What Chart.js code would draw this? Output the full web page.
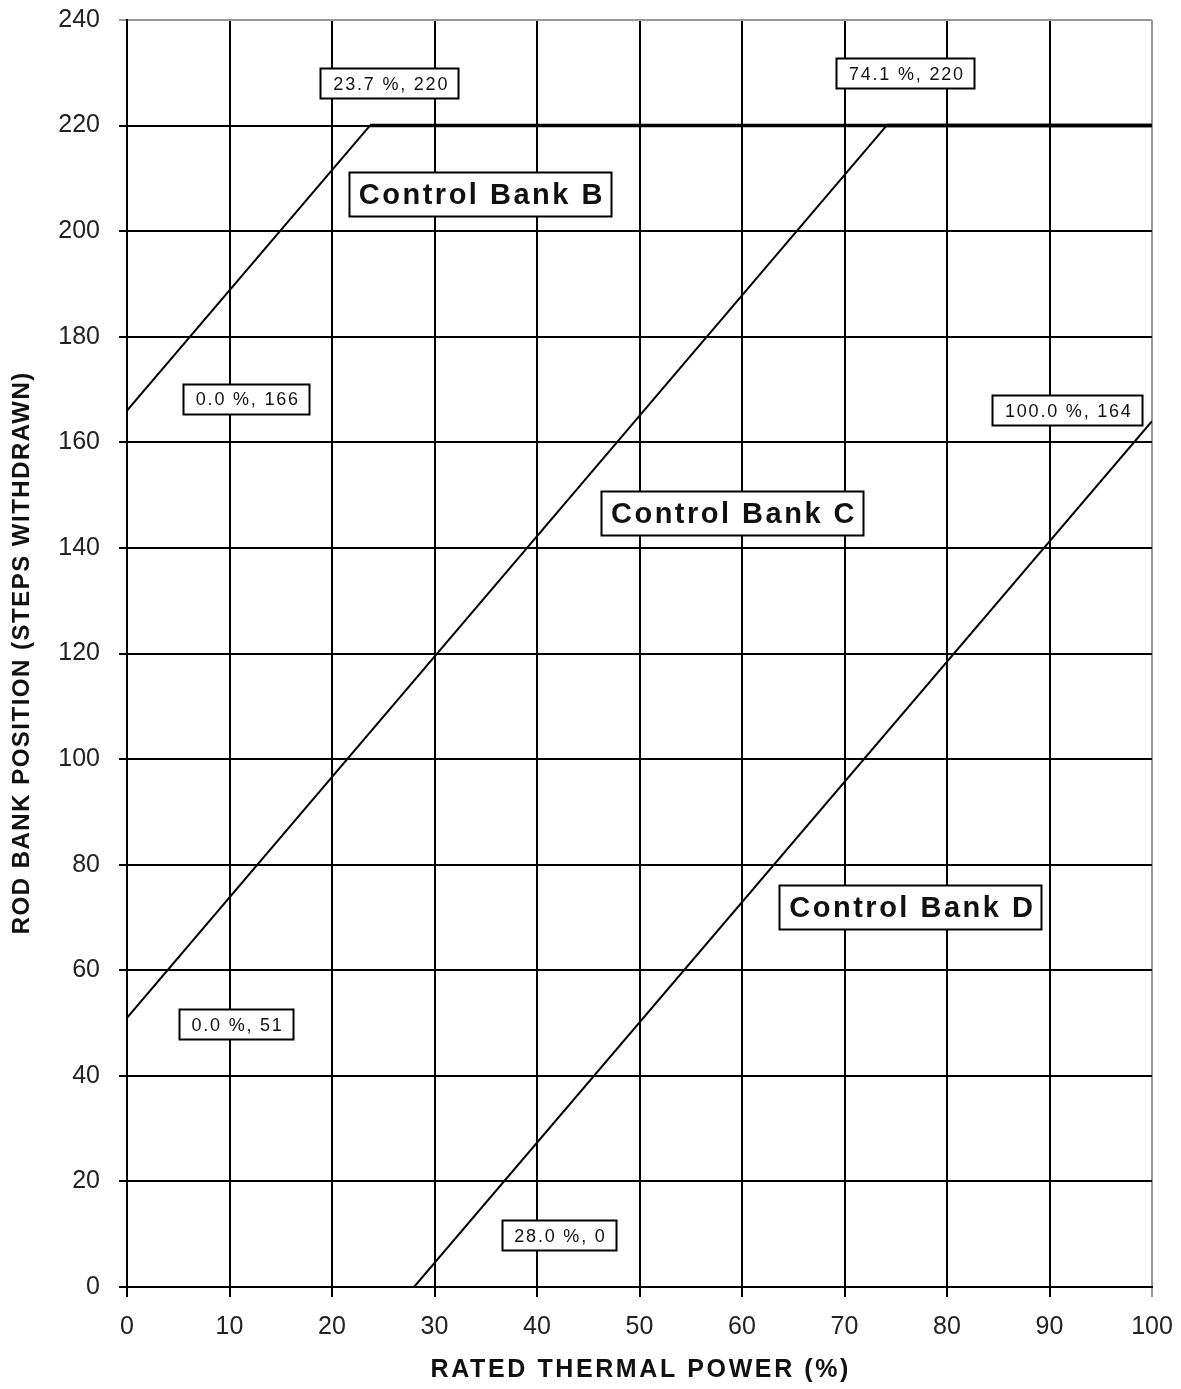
<!DOCTYPE html>
<html>
<head>
<meta charset="utf-8">
<script src="https://cdn.jsdelivr.net/npm/chart.js@4/dist/chart.umd.min.js"></script>
<style>
  html, body { margin: 0; padding: 0; background: #fff; }
  #wrap { width: 1181px; height: 1389px; position: relative; }
</style>
</head>
<body>
<div id="wrap"><canvas id="c" width="1181" height="1389"></canvas></div>
<script>
// Rod insertion limits vs. rated thermal power
const bankBPower = [0.0, 23.7, 100.0];
const bankBSteps = [166, 220, 220];
const bankCPower = [0.0, 74.1, 100.0];
const bankCSteps = [51, 220, 220];
const bankDPower = [28.0, 100.0];
const bankDSteps = [0, 164];

const xTicks = [0, 10, 20, 30, 40, 50, 60, 70, 80, 90, 100];
const yTicks = [0, 20, 40, 60, 80, 100, 120, 140, 160, 180, 200, 220, 240];

const xTitle = 'RATED THERMAL POWER (%)';
const yTitle = 'ROD BANK POSITION (STEPS WITHDRAWN)';

// Boxed point callouts: text and anchor (in data units)
const calloutText = ['23.7 %, 220', '74.1 %, 220', '0.0 %, 166', '100.0 %, 164', '0.0 %, 51', '28.0 %, 0'];
const calloutAt = [[25.6, 228.1], [75.9, 230.0], [11.6, 168.3], [91.7, 166.1], [10.6, 49.8], [42.1, 9.9]];
const bankNames = ['Control Bank B', 'Control Bank C', 'Control Bank D'];
const bankNameAt = [[34.4, 207.1], [59.0, 146.6], [76.4, 72.0]];

const FONT = '"Liberation Sans", Arial, sans-serif';

function pts(xs, ys) { return xs.map((x, i) => ({ x: x, y: ys[i] })); }

const lineStyle = {
  borderColor: '#000',
  borderWidth: 2,
  pointRadius: 0,
  fill: false,
  tension: 0,
  segment: {
    borderWidth: ctx => (ctx.p0.parsed.y === ctx.p1.parsed.y ? 3.5 : 2)
  }
};

function spacedText(c, text, x, y, spacing) {
  c.letterSpacing = spacing + 'px';
  // trailing spacing is included in the advance; shift to keep it centred
  c.fillText(text, x + spacing / 2, y);
}

const annotate = {
  id: 'annotate',
  afterDatasetsDraw(chart) {
    const c = chart.ctx, xs = chart.scales.x, ys = chart.scales.y;
    function box(text, at, font, spacing, padX, h) {
      c.save();
      c.font = font;
      c.letterSpacing = spacing + 'px';
      const w = Math.round(c.measureText(text).width - spacing + padX * 2);
      const cx = xs.getPixelForValue(at[0]);
      const cy = ys.getPixelForValue(at[1]);
      const left = Math.round(cx - w / 2), top = Math.round(cy - h / 2);
      c.fillStyle = '#fff';
      c.fillRect(left, top, w, h);
      c.strokeStyle = '#000';
      c.lineWidth = 2;
      c.strokeRect(left + 0.5, top + 0.5, w, h);
      c.fillStyle = '#111';
      c.textAlign = 'center';
      c.textBaseline = 'middle';
      spacedText(c, text, cx + 1, cy + 2, spacing);
      c.restore();
    }
    calloutText.forEach((t, i) => box(t, calloutAt[i], '18px ' + FONT, 1.8, 12, 30));
    bankNames.forEach((t, i) => box(t, bankNameAt[i], 'bold 29px ' + FONT, 2.5, 9, 44));
  },
  afterDraw(chart) {
    const c = chart.ctx, a = chart.chartArea;
    c.save();
    c.fillStyle = '#111';
    c.textAlign = 'center';
    c.textBaseline = 'middle';
    c.font = 'bold 25px ' + FONT;
    spacedText(c, xTitle, (a.left + a.right) / 2, 1370, 2.6);
    c.translate(22, (a.top + a.bottom) / 2);
    c.rotate(-Math.PI / 2);
    c.font = 'bold 24px ' + FONT;
    spacedText(c, yTitle, 0, 0, 1.5);
    c.restore();
  }
};

new Chart(document.getElementById('c'), {
  type: 'line',
  data: {
    datasets: [
      Object.assign({ label: 'Control Bank B', data: pts(bankBPower, bankBSteps) }, lineStyle),
      Object.assign({ label: 'Control Bank C', data: pts(bankCPower, bankCSteps) }, lineStyle),
      Object.assign({ label: 'Control Bank D', data: pts(bankDPower, bankDSteps) }, lineStyle)
    ]
  },
  options: {
    responsive: false,
    animation: false,
    devicePixelRatio: 1,
    layout: { padding: { left: 0, right: 29, top: 20, bottom: 0 } },
    plugins: { legend: { display: false }, tooltip: { enabled: false } },
    scales: {
      x: {
        type: 'linear',
        min: 0, max: 100,
        afterBuildTicks: s => { s.ticks = xTicks.map(v => ({ value: v })); },
        afterFit: s => { s.height = 102; s.paddingLeft = 0; s.paddingRight = 0; },
        border: { color: '#000', width: 2 },
        grid: {
          color: ctx => (ctx.tick && ctx.tick.value === 100 ? '#999' : '#000'),
          lineWidth: 2,
          tickLength: 10,
          drawTicks: true
        },
        ticks: {
          color: '#222',
          padding: 15,
          font: { family: FONT, size: 25 },
          maxRotation: 0
        }
      },
      y: {
        type: 'linear',
        min: 0, max: 240,
        afterBuildTicks: s => { s.ticks = yTicks.map(v => ({ value: v })); },
        afterFit: s => { s.width = 127; s.paddingTop = 0; s.paddingBottom = 0; },
        border: { color: '#000', width: 2 },
        grid: {
          color: ctx => (ctx.tick && ctx.tick.value === 240 ? '#999' : '#000'),
          lineWidth: 2,
          tickLength: 8,
          drawTicks: true
        },
        ticks: {
          color: '#222',
          padding: 19,
          font: { family: FONT, size: 25 }
        }
      }
    }
  },
  plugins: [annotate]
});
</script>
</body>
</html>
